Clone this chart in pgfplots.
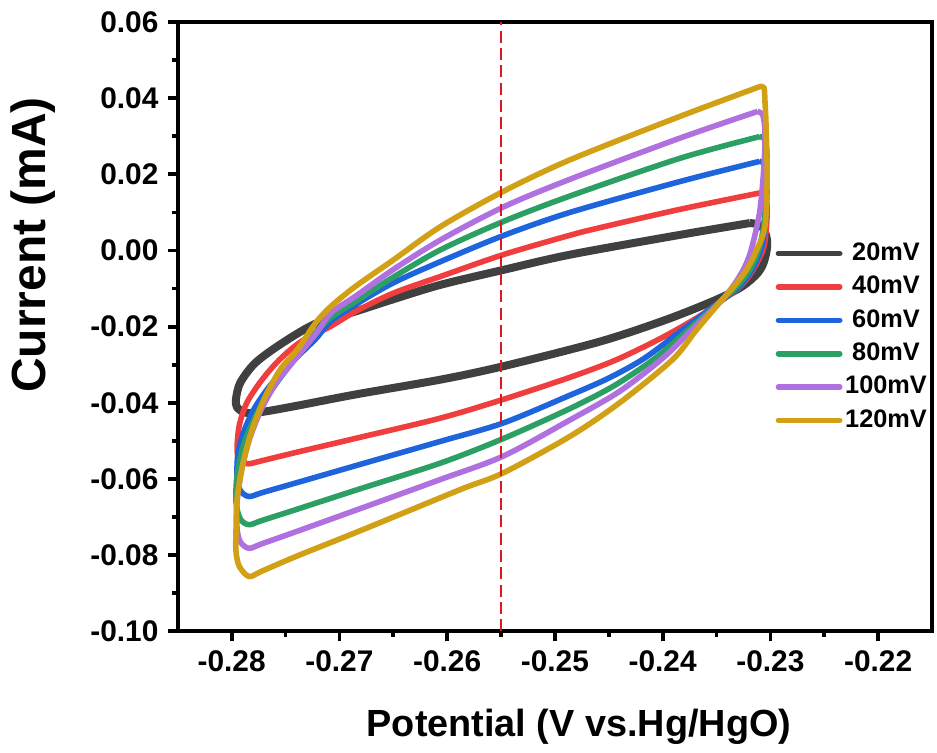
\documentclass[border=0pt]{standalone}
\usepackage{fontspec}
\setmainfont{Liberation Sans}
\usepackage{pgfplots}
\pgfplotsset{compat=1.18}
\definecolor{cgray}{RGB}{64,64,64}
\definecolor{cred}{RGB}{240,62,62}
\definecolor{cblue}{RGB}{30,100,220}
\definecolor{cgreen}{RGB}{44,160,100}
\definecolor{cpurple}{RGB}{176,112,224}
\definecolor{cgold}{RGB}{210,160,20}
\definecolor{cdash}{RGB}{220,25,30}
\begin{document}
\begin{tikzpicture}
\begin{axis}[name=ax, scale only axis, width=283.125pt, height=228.75pt,
  xmin=-0.285, xmax=-0.215, ymin=-0.10, ymax=0.06,
  xtick={-0.28,-0.27,-0.26,-0.25,-0.24,-0.23,-0.22},
  ytick={-0.10,-0.08,-0.06,-0.04,-0.02,0,0.02,0.04,0.06},
  minor x tick num=1, minor y tick num=1,
  tick align=outside, xtick pos=bottom, ytick pos=left,
  major tick length=3.75pt, minor tick length=2pt,
  every tick/.style={black, line width=1.4pt},
  axis line style={line width=1.4pt},
  scaled x ticks=false, scaled y ticks=false,
  /pgf/number format/assume math mode=true,
  tick label style={font=\bfseries\fontsize{11.2}{13}\selectfont},
  xticklabel style={/pgf/number format/fixed, /pgf/number format/precision=2, /pgf/number format/fixed zerofill},
  yticklabel style={/pgf/number format/fixed, /pgf/number format/precision=2, /pgf/number format/fixed zerofill},
  xlabel={Potential (V vs.Hg/HgO)},
  ylabel={Current (mA)},
  xlabel style={font=\bfseries\fontsize{14.2}{16}\selectfont, at={(axis description cs:0.532,-0.156)}, anchor=center},
  ylabel style={font=\bfseries\fontsize{18}{20}\selectfont, at={(axis description cs:-0.192,0.634)}, anchor=center},
  legend style={draw=none, fill=none, at={(rel axis cs:0.792,0.643)}, anchor=north west,
    font=\bfseries\fontsize{9.5}{11}\selectfont, row sep=2.4pt, inner sep=0pt, nodes={inner sep=1pt}},
  legend cell align=center,
  legend image code/.code={\draw[#1, line width=2.1pt, line cap=round] (0pt,0pt) -- (23pt,0pt);},
  every axis plot/.append style={line join=round, smooth, tension=0.5},
]
% 20 mV
\addplot[cgray, line width=3pt] coordinates {
(-0.2319,0.0072) (-0.2309,0.0066) (-0.2304,0.0040) (-0.2303,0.0010) (-0.2306,-0.0030) (-0.2312,-0.0060)
(-0.2326,-0.0094) (-0.2350,-0.0129) (-0.2397,-0.0182) (-0.2458,-0.0239) (-0.2548,-0.0304)
(-0.2606,-0.0339) (-0.2685,-0.0378) (-0.2740,-0.0408) (-0.2772,-0.0424) (-0.2787,-0.0426) (-0.2795,-0.0412)
(-0.2796,-0.0390) (-0.2792,-0.0347) (-0.2778,-0.0295) (-0.2753,-0.0243) (-0.2722,-0.0192) (-0.2685,-0.0160)
(-0.2650,-0.0128) (-0.2606,-0.0090) (-0.2548,-0.0051) (-0.2486,-0.0011) (-0.2384,0.0041)
(-0.2319,0.0072)};
\addlegendentry{20mV}
% 40 mV
\addplot[cred, line width=2.1pt] coordinates {
(-0.2310,0.0151) (-0.2305,0.0143) (-0.2303,0.0110) (-0.2304,0.0050) (-0.2307,0.0000) (-0.2318,-0.0060)
(-0.2330,-0.0100) (-0.2346,-0.0133) (-0.2366,-0.0173) (-0.2400,-0.0228) (-0.2443,-0.0287) (-0.2486,-0.0333)
(-0.2548,-0.0391) (-0.2606,-0.0440) (-0.2680,-0.0490) (-0.2740,-0.0530) (-0.2772,-0.0552) (-0.2785,-0.0560)
(-0.2793,-0.0548) (-0.2795,-0.0520) (-0.2793,-0.0460) (-0.2786,-0.0400) (-0.2772,-0.0340) (-0.2755,-0.0285)
(-0.2735,-0.0238) (-0.2708,-0.0199) (-0.2685,-0.0160) (-0.2650,-0.0112) (-0.2606,-0.0068) (-0.2548,-0.0011)
(-0.2486,0.0040) (-0.2458,0.0060) (-0.2384,0.0108) (-0.2310,0.0151)};
\addlegendentry{40mV}
% 60 mV
\addplot[cblue, line width=2.1pt] coordinates {
(-0.2310,0.0234) (-0.2305,0.0225) (-0.2303,0.0180) (-0.2304,0.0100) (-0.2306,0.0040) (-0.2309,0.0000)
(-0.2318,-0.0055) (-0.2330,-0.0097) (-0.2346,-0.0133) (-0.2380,-0.0205) (-0.2417,-0.0283) (-0.2450,-0.0335)
(-0.2486,-0.0380) (-0.2548,-0.0453) (-0.2606,-0.0501) (-0.2680,-0.0561) (-0.2740,-0.0610) (-0.2772,-0.0636)
(-0.2784,-0.0646) (-0.2792,-0.0630) (-0.2795,-0.0590) (-0.2794,-0.0530) (-0.2788,-0.0470) (-0.2778,-0.0410)
(-0.2763,-0.0350) (-0.2743,-0.0290) (-0.2722,-0.0232) (-0.2708,-0.0186) (-0.2685,-0.0142) (-0.2650,-0.0085)
(-0.2606,-0.0029) (-0.2548,0.0039) (-0.2486,0.0100) (-0.2384,0.0181) (-0.2310,0.0234)};
\addlegendentry{60mV}
% 80 mV
\addplot[cgreen, line width=2.1pt] coordinates {
(-0.2310,0.0299) (-0.2305,0.0290) (-0.2303,0.0240) (-0.2304,0.0150) (-0.2306,0.0070) (-0.2311,0.0000)
(-0.2320,-0.0055) (-0.2332,-0.0097) (-0.2346,-0.0133) (-0.2375,-0.0205) (-0.2407,-0.0283) (-0.2445,-0.0355)
(-0.2486,-0.0415) (-0.2548,-0.0494) (-0.2606,-0.0558) (-0.2680,-0.0625) (-0.2740,-0.0680) (-0.2772,-0.0709)
(-0.2784,-0.0720) (-0.2792,-0.0705) (-0.2796,-0.0660) (-0.2795,-0.0590) (-0.2790,-0.0520) (-0.2782,-0.0460)
(-0.2771,-0.0400) (-0.2755,-0.0335) (-0.2735,-0.0262) (-0.2722,-0.0215) (-0.2708,-0.0176) (-0.2685,-0.0134)
(-0.2650,-0.0070) (-0.2606,0.0002) (-0.2548,0.0076) (-0.2486,0.0143) (-0.2384,0.0242) (-0.2310,0.0299)};
\addlegendentry{80mV}
% 100 mV
\addplot[cpurple, line width=2.1pt] coordinates {
(-0.2312,0.0365) (-0.2307,0.0355) (-0.2305,0.0308) (-0.2306,0.0220) (-0.2310,0.0100) (-0.2318,0.0000)
(-0.2325,-0.0050) (-0.2335,-0.0095) (-0.2346,-0.0133) (-0.2372,-0.0205) (-0.2400,-0.0283) (-0.2440,-0.0370)
(-0.2486,-0.0445) (-0.2548,-0.0540) (-0.2606,-0.0601) (-0.2680,-0.0677) (-0.2740,-0.0738) (-0.2772,-0.0770)
(-0.2784,-0.0782) (-0.2792,-0.0765) (-0.2795,-0.0730) (-0.2795,-0.0660) (-0.2791,-0.0580) (-0.2784,-0.0500)
(-0.2773,-0.0420) (-0.2758,-0.0345) (-0.2738,-0.0275) (-0.2720,-0.0212) (-0.2708,-0.0164) (-0.2685,-0.0120)
(-0.2650,-0.0050) (-0.2606,0.0028) (-0.2548,0.0114) (-0.2486,0.0187) (-0.2384,0.0295) (-0.2312,0.0365)};
\addlegendentry{100mV}
% 120 mV
\addplot[cgold, line width=2.1pt] coordinates {
(-0.2310,0.0430) (-0.2306,0.0428) (-0.2305,0.0390) (-0.2304,0.0325) (-0.2303,0.0194) (-0.2305,0.0063)
(-0.2313,0.0000) (-0.2322,-0.0050) (-0.2334,-0.0095) (-0.2346,-0.0133) (-0.2369,-0.0210) (-0.2391,-0.0287)
(-0.2440,-0.0400) (-0.2486,-0.0488) (-0.2548,-0.0584) (-0.2588,-0.0628) (-0.2680,-0.0735) (-0.2740,-0.0803)
(-0.2772,-0.0842) (-0.2784,-0.0856) (-0.2793,-0.0829) (-0.2796,-0.0790) (-0.2796,-0.0741) (-0.2795,-0.0654)
(-0.2790,-0.0566) (-0.2782,-0.0479) (-0.2770,-0.0391) (-0.2755,-0.0313) (-0.2739,-0.0260) (-0.2722,-0.0190)
(-0.2708,-0.0147) (-0.2685,-0.0094) (-0.2650,-0.0025) (-0.2606,0.0063) (-0.2548,0.0155) (-0.2486,0.0238)
(-0.2384,0.0352) (-0.2310,0.0430)};
\addlegendentry{120mV}
% dashed marker
\addplot[cdash, line width=0.85pt, dash pattern=on 4.5pt off 2pt, forget plot, sharp plot] coordinates {(-0.255,-0.10) (-0.255,0.06)};
\end{axis}
\pgfresetboundingbox
\useasboundingbox ([shift={(-66.75pt,-45.375pt)}]ax.south west) rectangle ([shift={(1.875pt,8.25pt)}]ax.north east);
\end{tikzpicture}
\end{document}
